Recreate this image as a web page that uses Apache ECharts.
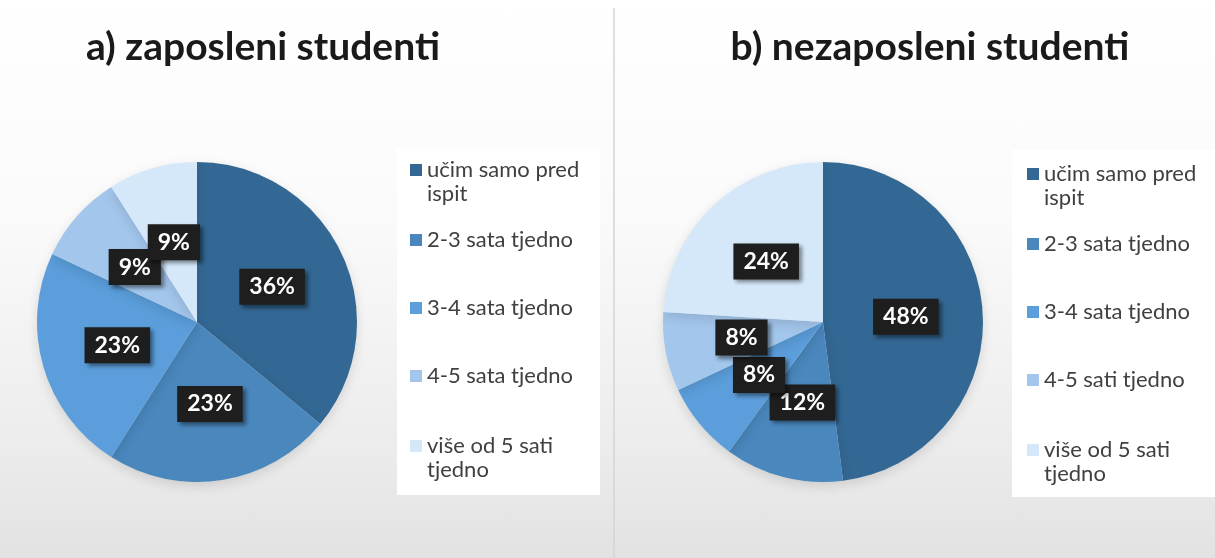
<!DOCTYPE html>
<html>
<head>
<meta charset="utf-8">
<script src="https://cdn.jsdelivr.net/npm/echarts@6/dist/echarts.min.js"></script>
<style>
html, body { margin: 0; padding: 0; }
#chart {
    width: 1215px;
    height: 558px;
    background: linear-gradient(to bottom, #ffffff 0%, #fafafa 40%, #ececec 80%, #e2e2e2 100%);
}
</style>
</head>
<body>
<div id="chart"></div>
<script>
// kategorije i postoci
const catsA = ['učim samo pred ispit', '2-3 sata tjedno', '3-4 sata tjedno', '4-5 sata tjedno', 'više od 5 sati tjedno'];
const valsA = [36, 23, 23, 9, 9];
const catsB = ['učim samo pred ispit', '2-3 sata tjedno', '3-4 sata tjedno', '4-5 sati tjedno', 'više od 5 sati tjedno'];
const valsB = [48, 12, 8, 8, 24];
const titles = ['a) zaposleni studenti', 'b) nezaposleni studenti'];
const colors = ['#336894', '#4a87bd', '#5b9edb', '#a3c6ec', '#d4e8fa'];

const chart = echarts.init(document.getElementById('chart'));

// prelamanje dugih naziva u legendi
function wrap(name) {
    const words = name.split(' ');
    let lines = [], cur = '';
    words.forEach(w => {
        if ((cur + ' ' + w).trim().length > 15 && cur) {
            lines.push(cur);
            cur = w;
        } else {
            cur = (cur + ' ' + w).trim();
        }
    });
    lines.push(cur);
    // prazan red na vrhu da ikona stoji uz prvi red
    return lines.length > 1 ? '\n' + lines.join('\n') : lines[0];
}

function legendData(cats) {
    return cats.map((n, i) => ({
        name: n,
        itemStyle: { color: colors[i] },
        textStyle: { lineHeight: wrap(n).indexOf('\n') >= 0 ? 24 : 68 }
    }));
}

function legend(cats, left, top) {
    return {
        orient: 'vertical',
        left: left,
        top: top,
        padding: 0,
        itemGap: 0,
        itemWidth: 12,
        itemHeight: 12,
        icon: 'rect',
        selectedMode: false,
        textStyle: {
            color: '#404040',
            fontSize: 22,
            fontFamily: 'Lato'
        },
        formatter: wrap,
        data: legendData(cats)
    };
}

function pie(cats, vals, cx) {
    return {
        type: 'pie',
        center: [cx, 322],
        radius: 160,
        startAngle: 90,
        clockwise: true,
        avoidLabelOverlap: false,
        emphasis: { scale: false },
        labelLayout: { hideOverlap: false },
        itemStyle: {
            borderWidth: 0,
            shadowBlur: 12,
            shadowOffsetY: 4,
            shadowColor: 'rgba(0,0,0,0.12)'
        },
        label: {
            show: true,
            position: 'inside',
            formatter: '{c}%',
            color: '#ffffff',
            fontFamily: 'Lato',
            fontWeight: 'bold',
            fontSize: 23,
            backgroundColor: '#1e1e1e',
            padding: [7, 10, 6, 10],
            shadowBlur: 4,
            shadowOffsetX: 3,
            shadowOffsetY: 3,
            shadowColor: 'rgba(0,0,0,0.45)'
        },
        labelLine: { show: false },
        data: cats.map((n, i) => ({ name: n, value: vals[i], itemStyle: { color: colors[i] } }))
    };
}

const option = {
    color: colors,
    animation: false,
    title: [
        {
            text: titles[0],
            left: 258,
            top: 23,
            textAlign: 'center',
            textStyle: { fontFamily: 'Lato', fontWeight: 'bold', fontSize: 39, color: '#1a1a1a' }
        },
        {
            text: titles[1],
            left: 925,
            top: 23,
            textAlign: 'center',
            textStyle: { fontFamily: 'Lato', fontWeight: 'bold', fontSize: 39, color: '#1a1a1a' }
        }
    ],
    graphic: [
        // bijela polja iza legendi
        { type: 'rect', z: -1, shape: { x: 397, y: 148, width: 203, height: 347 }, style: { fill: '#ffffff' } },
        { type: 'rect', z: -1, shape: { x: 1012, y: 150, width: 203, height: 347 }, style: { fill: '#ffffff' } },
        // razdjelnik
        { type: 'line', z: -1, shape: { x1: 614, y1: 8, x2: 614, y2: 558 }, style: { stroke: '#d4d4d4', lineWidth: 1.5 } }
    ],
    legend: [
        legend(catsA, 410, 134),
        legend(catsB, 1027, 138)
    ],
    series: [
        pie(catsA, valsA, 197),
        pie(catsB, valsB, 823)
    ]
};

chart.setOption(option);
</script>
</body>
</html>
